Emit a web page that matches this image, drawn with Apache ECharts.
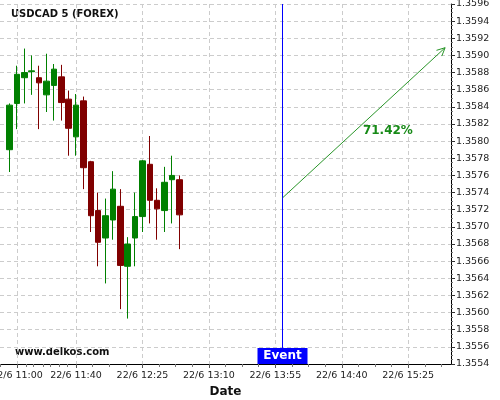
<!DOCTYPE html>
<html>
<head>
<meta charset="utf-8">
<script src="https://cdn.jsdelivr.net/npm/echarts@6/dist/echarts.min.js"></script>
<style>html,body{margin:0;padding:0;background:#fff}#c{width:500px;height:400px}</style>
</head>
<body>
<div id="c"></div>
<script>
// ---- data ----
var times  = ['10:55','11:00','11:05','11:10','11:15','11:20','11:25','11:30','11:35','11:40','11:45','11:50',
              '11:55','12:00','12:05','12:10','12:15','12:20','12:25','12:30','12:35','12:40','12:45','12:50'];
var opens  = [1.35790,1.35844,1.35874,1.35881,1.35874,1.35854,1.35865,1.35875,1.35849,1.35805,1.35847,1.35776,
              1.35719,1.35687,1.35708,1.35724,1.35654,1.35687,1.35712,1.35773,1.35731,1.35719,1.35755,1.35755];
var closes = [1.35842,1.35878,1.35880,1.35882,1.35868,1.35870,1.35884,1.35845,1.35815,1.35842,1.35769,1.35713,
              1.35682,1.35713,1.35744,1.35655,1.35680,1.35712,1.35777,1.35731,1.35721,1.35752,1.35760,1.35714];
var lows   = [1.35764,1.35814,1.35844,1.35854,1.35814,1.35834,1.35824,1.35824,1.35783,1.35783,1.35744,1.35694,
              1.35654,1.35634,1.35685,1.35604,1.35593,1.35654,1.35694,1.35704,1.35685,1.35694,1.35704,1.35674];
var highs  = [1.35844,1.35888,1.35908,1.35900,1.35888,1.35902,1.35890,1.35889,1.35859,1.35855,1.35852,1.35777,
              1.35740,1.35733,1.35765,1.35744,1.35688,1.35740,1.35778,1.35806,1.35745,1.35770,1.35783,1.35760];
var xTickLabels = ['11:00','11:40','12:25','13:10','13:55','14:40','15:25'];
var eventTime = '14:00';
var arrowStart = 1.35734;
var arrowEndTime = '15:50';
var arrowEnd = 1.35909;
var percentText = '71.42%';
var datePrefix = '22/6 ';

function toMin(s){var p=s.split(':');return (+p[0])*60+(+p[1]);}
function fmt(m){var h=Math.floor(m/60),mm=Math.round(m%60);return datePrefix+h+':'+(mm<10?'0':'')+mm;}

var candleData = times.map(function(t,i){return [toMin(t),opens[i],closes[i],lows[i],highs[i]];});
var majorVals = xTickLabels.map(toMin);
var minorVals = [];
majorVals.forEach(function(m){for(var k=-3;k<=3;k++){if(k!==0)minorVals.push(m+k*11.25);}});
minorVals = minorVals.filter(function(v){return majorVals.indexOf(v)<0;});

var FONT = 'DejaVu Sans';
var xMin = 648.5, xMax = 954;

var chart = echarts.init(document.getElementById('c'), null, {renderer:'canvas'});
chart.setOption({
  animation:false,
  backgroundColor:'#ffffff',
  grid:{left:0,right:49,top:4,bottom:36,containLabel:false,outerBoundsMode:'none'},
  xAxis:[{
    type:'value',min:xMin,max:xMax,position:'bottom',
    axisLine:{show:true,onZero:false,lineStyle:{color:'#000',width:1}},
    axisTick:{show:true,length:4,lineStyle:{color:'#555'},customValues:majorVals},
    axisLabel:{show:true,customValues:majorVals,formatter:function(v){return fmt(v);},
      fontFamily:FONT,fontSize:9.5,color:'#222',margin:7,showMinLabel:true,showMaxLabel:true,hideOverlap:false},
    splitLine:{show:true,lineStyle:{color:'#cccccc',type:[4,3],width:1}},
    name:'Date',nameLocation:'middle',nameGap:19,
    nameTextStyle:{fontFamily:FONT,fontSize:12,fontWeight:'bold',color:'#111',verticalAlign:'top'}
  },{
    type:'value',min:xMin,max:xMax,position:'bottom',gridIndex:0,
    axisLine:{show:false},
    axisTick:{show:true,length:3,lineStyle:{color:'#777'},customValues:minorVals},
    axisLabel:{show:false,customValues:minorVals},
    splitLine:{show:false}
  }],
  yAxis:{
    type:'value',position:'right',min:1.3554,max:1.3596,interval:0.0002,
    axisLine:{show:true,lineStyle:{color:'#000',width:1}},
    axisTick:{show:true,length:4,inside:false,lineStyle:{color:'#333'}},
    minorTick:{show:true,splitNumber:4,length:2,lineStyle:{color:'#777'}},
    axisLabel:{fontFamily:FONT,fontSize:9.5,color:'#222',margin:5,formatter:function(v){return v.toFixed(4);}},
    splitLine:{show:true,lineStyle:{color:'#cccccc',type:[4,3],width:1}}
  },
  graphic:[
    {type:'text',left:11,top:9,style:{text:'USDCAD 5 (FOREX)',font:'bold 10px "DejaVu Sans"',fill:'#111'}},
    {type:'text',left:15,top:347,style:{text:'www.delkos.com',font:'bold 10px "DejaVu Sans"',fill:'#111'}}
  ],
  series:[{
    type:'candlestick',
    xAxisIndex:0,
    data:candleData,
    encode:{x:0,y:[1,2,3,4]},
    barWidth:6,
    itemStyle:{color:'#008000',color0:'#800000',borderColor:'#008000',borderColor0:'#800000',borderWidth:1},
    silent:true
  },{
    type:'custom',
    xAxisIndex:0,
    silent:true,
    clip:false,
    z:5,
    data:[[toMin(eventTime),arrowStart,toMin(arrowEndTime),arrowEnd]],
    encode:{x:[0,2],y:[1,3]},
    renderItem:function(params,api){
      var cs=params.coordSys;
      var p0=api.coord([api.value(0),api.value(1)]);
      var p1=api.coord([api.value(2),api.value(3)]);
      var ex=Math.floor(p0[0])+0.5;
      var bottom=cs.y+cs.height;
      var ang=Math.atan2(p1[1]-p0[1],p1[0]-p0[0]);
      var hl=9, ha=0.45;
      var h1=[p1[0]-hl*Math.cos(ang-ha),p1[1]-hl*Math.sin(ang-ha)];
      var h2=[p1[0]-hl*Math.cos(ang+ha),p1[1]-hl*Math.sin(ang+ha)];
      var green='#2a962a';
      return {type:'group',children:[
        {type:'line',shape:{x1:ex,y1:cs.y,x2:ex,y2:bottom-16},style:{stroke:'#0000ff',lineWidth:1}},
        {type:'rect',shape:{x:ex-25,y:bottom-16,width:50,height:16},style:{fill:'#0000ff'}},
        {type:'text',x:ex,y:bottom-8,style:{text:'Event',font:'bold 12px "DejaVu Sans"',fill:'#fff',align:'center',verticalAlign:'middle'}},
        {type:'line',shape:{x1:p0[0],y1:p0[1],x2:p1[0],y2:p1[1]},style:{stroke:green,lineWidth:1}},
        {type:'polyline',shape:{points:[h1,p1,h2]},style:{stroke:green,lineWidth:1,fill:null}},
        {type:'text',x:(p0[0]+p1[0])/2+24,y:(p0[1]+p1[1])/2+8,style:{text:percentText,font:'bold 12px "DejaVu Sans"',fill:'#178a17',align:'center',verticalAlign:'middle'}}
      ]};
    }
  }]
});
</script>
</body>
</html>
